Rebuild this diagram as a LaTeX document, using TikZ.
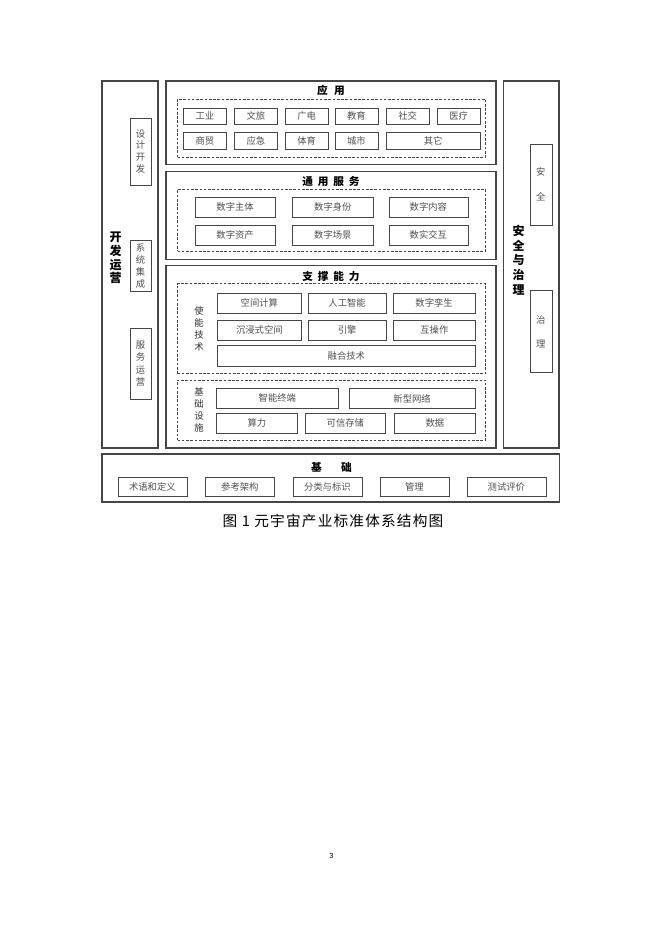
\documentclass[tikz,border=0pt]{standalone}
\usepackage{fontspec}
\setmainfont{Liberation Serif}
\newfontfamily\cjk{Noto Sans CJK SC}
\newfontfamily\cjkcap[LetterSpace=8]{Noto Sans CJK SC}
\newfontfamily\pagefont{Liberation Sans}
\definecolor{framegray}{RGB}{70, 70, 70}
\definecolor{textgray}{RGB}{80, 80, 80}
\usepackage{tikz}
\usetikzlibrary{fit}

\newdimen\px
\px=0.75pt

\tikzset{
  panel/.style = {
    draw        = framegray,
    line width  = 0.8pt,
    inner sep   = 0pt
  },
  group/.style = {
    draw         = framegray,
    line width   = 0.7pt,
    dash pattern = on 2pt off 1.2pt,
    inner sep    = 0pt
  },
  cell/.style = {
    draw        = framegray,
    line width  = 0.6pt,
    inner sep   = 0pt,
    anchor      = north west,
    align       = center,
    text        = textgray,
    font        = \cjk\fontsize{7}{8}\selectfont
  },
  boxsize/.style 2 args = {
    minimum width  = #1\px,
    minimum height = #2\px
  },
  headline/.style = {
    inner sep   = 0pt,
    font        = \cjk\bfseries\fontsize{8}{9}\selectfont
  },
  sidelabel/.style = {
    inner sep   = 0pt,
    align       = center,
    font        = \cjk\bfseries\fontsize{9}{10.2}\selectfont
  },
  grouplabel/.style = {
    inner sep   = 0pt,
    align       = center,
    text        = textgray!60!black,
    font        = \cjk\fontsize{7}{8.9}\selectfont
  }
}

\begin{document}
\begin{tikzpicture}[x=0.75pt, y=-0.75pt]
  \fill[white] (0,0) rectangle (662,936);
  \useasboundingbox (0,0) rectangle (662,936);

  % left column
  \node[panel, fit={(102,81) (158,448)}] (devops) {};
  \node[sidelabel] (devopslabel) at (115.5,258) {开\\发\\运\\营};
  \node[cell, boxsize={21.5}{67}, font=\cjk\fontsize{7}{8.8}\selectfont] (design) at (129.5,117.5) {设\\计\\开\\发};
  \node[cell, boxsize={21.5}{51}, font=\cjk\fontsize{7}{9.1}\selectfont] (integration) at (129.5,240) {系\\统\\集\\成};
  \node[cell, boxsize={21.5}{70.5}, font=\cjk\fontsize{7}{9.3}\selectfont] (operation) at (129.5,328) {服\\务\\运\\营};

  % applications
  \node[panel, fit={(166,81) (496,164.5)}] (app) {};
  \node[headline] (apptitle) at (331,90) {应\hspace{0.6em}用};
  \node[group, fit={(177.5,99) (485.5,157)}] (appgroup) {};
  \node[cell, boxsize={43}{16.5}] (industry) at (183,107.5) {工业};
  \node[cell, boxsize={43}{16.5}] (tourism) at (234,107.5) {文旅};
  \node[cell, boxsize={42.5}{16.5}] (broadcast) at (285,107.5) {广电};
  \node[cell, boxsize={43}{16.5}] (education) at (334.5,107.5) {教育};
  \node[cell, boxsize={42.5}{16.5}] (social) at (386,107.5) {社交};
  \node[cell, boxsize={42.5}{16.5}] (medical) at (437,107.5) {医疗};
  \node[cell, boxsize={43}{17.5}] (trade) at (183,131.5) {商贸};
  \node[cell, boxsize={43}{17.5}] (emergency) at (234,131.5) {应急};
  \node[cell, boxsize={42.5}{17.5}] (sports) at (285,131.5) {体育};
  \node[cell, boxsize={43}{17.5}] (city) at (334.5,131.5) {城市};
  \node[cell, boxsize={93.5}{17.5}] (others) at (386,131.5) {其它};

  % common services
  \node[panel, fit={(166,171.5) (496,259.5)}] (service) {};
  \node[headline] (servicetitle) at (331,181) {通\hspace{0.45em}用\hspace{0.45em}服\hspace{0.45em}务};
  \node[group, fit={(177.5,189.5) (485.5,251)}] (servicegroup) {};
  \node[cell, boxsize={79.5}{20}] (subject) at (195,197) {数字主体};
  \node[cell, boxsize={81}{20}] (identity) at (292,197) {数字身份};
  \node[cell, boxsize={79}{20}] (content) at (388.5,197) {数字内容};
  \node[cell, boxsize={79.5}{20}] (asset) at (195,224.5) {数字资产};
  \node[cell, boxsize={81}{20}] (scene) at (292,224.5) {数字场景};
  \node[cell, boxsize={79}{20}] (interact) at (388.5,224.5) {数实交互};

  % supporting capabilities
  \node[panel, fit={(166,265.5) (496,448)}] (support) {};
  \node[headline] (supporttitle) at (331,276) {支\hspace{0.45em}撑\hspace{0.45em}能\hspace{0.45em}力};
  \node[group, fit={(177.5,283.5) (485.5,373.5)}] (enablegroup) {};
  \node[grouplabel] (enablelabel) at (199,329) {使\\能\\技\\术};
  \node[cell, boxsize={84}{20}] (spatial) at (217,292.5) {空间计算};
  \node[cell, boxsize={78.5}{20}] (ai) at (307.5,292.5) {人工智能};
  \node[cell, boxsize={82.5}{20}] (twin) at (392.5,292.5) {数字孪生};
  \node[cell, boxsize={84}{20}] (immersive) at (217,319.5) {沉浸式空间};
  \node[cell, boxsize={78.5}{20}] (engine) at (307.5,319.5) {引擎};
  \node[cell, boxsize={82}{20}] (interop) at (393,319.5) {互操作};
  \node[cell, boxsize={258}{20.5}] (fusion) at (217,345) {融合技术};
  \node[group, fit={(177.5,380) (485.5,440)}] (infragroup) {};
  \node[grouplabel, font=\cjk\fontsize{7}{9.2}\selectfont] (infralabel) at (199,410) {基\\础\\设\\施};
  \node[cell, boxsize={122}{20}] (terminal) at (216,388) {智能终端};
  \node[cell, boxsize={126.5}{20}] (network) at (348.5,388) {新型网络};
  \node[cell, boxsize={81}{20.5}] (compute) at (216,412.5) {算力};
  \node[cell, boxsize={80}{20.5}] (storage) at (305,412.5) {可信存储};
  \node[cell, boxsize={81}{20.5}] (data) at (394,412.5) {数据};

  % right column
  \node[panel, fit={(503.5,81) (559,448)}] (governance) {};
  \node[sidelabel, font=\cjk\bfseries\fontsize{9}{11}\selectfont] (governancelabel) at (518.5,260) {安\\全\\与\\治\\理};
  \node[cell, boxsize={22}{81}, font=\cjk\fontsize{7}{18.7}\selectfont] (security) at (529.5,143.5) {安\\全};
  \node[cell, boxsize={22}{82}, font=\cjk\fontsize{7}{18}\selectfont] (govern) at (529.5,290) {治\\理};

  % foundation
  \node[panel, fit={(102,454) (559.5,502)}] (base) {};
  \node[headline] (basetitle) at (331.5,467) {基\hspace{1.8em}础};
  \node[cell, boxsize={69}{19}] (terms) at (117.5,477) {术语和定义};
  \node[cell, boxsize={69}{19}] (reference) at (205,477) {参考架构};
  \node[cell, boxsize={69}{19}] (classify) at (292.5,477) {分类与标识};
  \node[cell, boxsize={69}{19}] (manage) at (379.5,477) {管理};
  \node[cell, boxsize={79}{19}] (evaluate) at (466.5,477) {测试评价};

  \node[inner sep=0pt, font=\cjkcap\fontsize{11}{13}\selectfont] (caption) at (333,521) {图 1 元宇宙产业标准体系结构图};
  \node[inner sep=0pt, font=\pagefont\fontsize{5.5}{6}\selectfont] (pagenum) at (331.5,856) {3};
\end{tikzpicture}
\end{document}
